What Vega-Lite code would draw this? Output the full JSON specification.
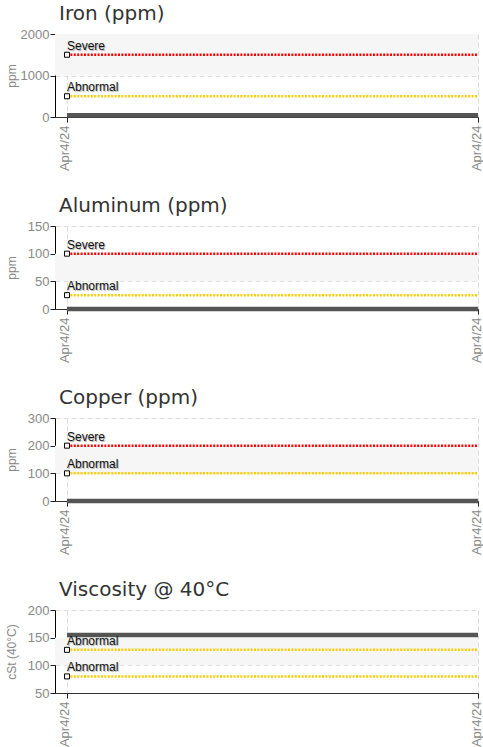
{
  "$schema": "https://vega.github.io/schema/vega-lite/v6.json",
  "padding": {"left": 5, "top": 4, "right": 0, "bottom": 0},
  "spacing": 25,
  "config": {
    "view": {"stroke": null},
    "title": {"font": "DejaVu Sans", "fontSize": 20, "fontWeight": "normal", "color": "#333333", "anchor": "start", "frame": "group", "offset": 4, "baseline": "alphabetic", "dx": 4},
    "axisY": {"domain": true, "domainWidth": 1, "grid": true, "gridColor": "#dddddd", "gridDash": [5, 3], "domainColor": "#000000", "tickColor": "#222222", "tickSize": 5, "labelFont": "Liberation Sans", "labelFontSize": 13, "labelColor": "#888888", "labelPadding": 1, "titleFont": "Liberation Sans", "titleFontSize": 12, "titleColor": "#888888", "titleFontWeight": "normal", "titleX": -40, "titleBaseline": "alphabetic", "format": "d"},
    "axisX": {"domain": true, "grid": true, "gridColor": "#dddddd", "gridDash": [5, 3], "domainColor": "#333333", "tickColor": "#222222", "tickSize": 5, "labelFont": "Liberation Sans", "labelFontSize": 13, "labelColor": "#888888", "labelPadding": 3, "labelAngle": 270, "labelOffset": -2, "format": "%b%-d/%y", "title": null}
  },
  "datasets": {
    "series": [
      {"panel": "Iron", "date": "2024-04-04T08:00:00", "v": 45},
      {"panel": "Iron", "date": "2024-04-04T20:00:00", "v": 45},
      {"panel": "Aluminum", "date": "2024-04-04T08:00:00", "v": 0},
      {"panel": "Aluminum", "date": "2024-04-04T20:00:00", "v": 0},
      {"panel": "Copper", "date": "2024-04-04T08:00:00", "v": 0},
      {"panel": "Copper", "date": "2024-04-04T20:00:00", "v": 0},
      {"panel": "Viscosity", "date": "2024-04-04T08:00:00", "v": 155},
      {"panel": "Viscosity", "date": "2024-04-04T20:00:00", "v": 155}
    ],
    "thresholds": [
      {"panel": "Iron", "label": "Severe", "v": 1500, "date": "2024-04-04T08:00:00", "date2": "2024-04-04T20:00:00"},
      {"panel": "Iron", "label": "Abnormal", "v": 500, "date": "2024-04-04T08:00:00", "date2": "2024-04-04T20:00:00"},
      {"panel": "Aluminum", "label": "Severe", "v": 100, "date": "2024-04-04T08:00:00", "date2": "2024-04-04T20:00:00"},
      {"panel": "Aluminum", "label": "Abnormal", "v": 25, "date": "2024-04-04T08:00:00", "date2": "2024-04-04T20:00:00"},
      {"panel": "Copper", "label": "Severe", "v": 200, "date": "2024-04-04T08:00:00", "date2": "2024-04-04T20:00:00"},
      {"panel": "Copper", "label": "Abnormal", "v": 100, "date": "2024-04-04T08:00:00", "date2": "2024-04-04T20:00:00"},
      {"panel": "Viscosity", "label": "Abnormal", "v": 128, "date": "2024-04-04T08:00:00", "date2": "2024-04-04T20:00:00"},
      {"panel": "Viscosity", "label": "Abnormal", "v": 80, "date": "2024-04-04T08:00:00", "date2": "2024-04-04T20:00:00"}
    ],
    "bands": [
      {"panel": "Iron", "v": 1000, "v2": 2000},
      {"panel": "Aluminum", "v": 50, "v2": 100},
      {"panel": "Copper", "v": 100, "v2": 200},
      {"panel": "Viscosity", "v": 100, "v2": 150}
    ]
  },
  "vconcat": [
    {
      "title": "Iron (ppm)",
      "width": 423, "height": 83,
      "encoding": {"y": {"field": "v", "type": "quantitative", "scale": {"domain": [0, 2000], "nice": false, "zero": false}, "axis": {"values": [0, 1000, 2000], "title": "ppm"}}},
      "layer": [
        {"data": {"name": "bands"}, "transform": [{"filter": "datum.panel === 'Iron'"}], "mark": {"type": "rect", "color": "#f6f6f6"}, "encoding": {"y2": {"field": "v2"}}},
        {"data": {"name": "thresholds"}, "transform": [{"filter": "datum.panel === 'Iron'"}], "mark": {"type": "rule", "strokeWidth": 2.5, "strokeDash": [2, 1.4]}, "encoding": {"x": {"field": "date", "type": "temporal", "scale": {"domain": [{"year": 2024, "month": 4, "date": 4, "hours": 7, "minutes": 39}, {"year": 2024, "month": 4, "date": 4, "hours": 20}]}, "axis": {"values": [{"year": 2024, "month": 4, "date": 4, "hours": 8}, {"year": 2024, "month": 4, "date": 4, "hours": 20}]}}, "x2": {"field": "date2"}, "color": {"field": "label", "type": "nominal", "scale": {"domain": ["Severe", "Abnormal"], "range": ["#ff0000", "#ffcc00"]}, "legend": null}}},
        {"data": {"name": "series"}, "transform": [{"filter": "datum.panel === 'Iron'"}], "mark": {"type": "line", "color": "#555555", "strokeWidth": 4.5, "strokeCap": "butt"}, "encoding": {"x": {"field": "date", "type": "temporal", "scale": {"domain": [{"year": 2024, "month": 4, "date": 4, "hours": 7, "minutes": 39}, {"year": 2024, "month": 4, "date": 4, "hours": 20}]}, "axis": {"values": [{"year": 2024, "month": 4, "date": 4, "hours": 8}, {"year": 2024, "month": 4, "date": 4, "hours": 20}]}}}},
        {"data": {"name": "thresholds"}, "transform": [{"filter": "datum.panel === 'Iron'"}], "mark": {"type": "point", "shape": "square", "size": 25, "filled": true, "fill": "#ffffff", "stroke": "#000000", "strokeWidth": 1, "opacity": 1}, "encoding": {"x": {"field": "date", "type": "temporal", "axis": {"values": [{"year": 2024, "month": 4, "date": 4, "hours": 8}, {"year": 2024, "month": 4, "date": 4, "hours": 20}]}}}},
        {"data": {"name": "thresholds"}, "transform": [{"filter": "datum.panel === 'Iron'"}], "mark": {"type": "text", "align": "left", "baseline": "alphabetic", "dx": 1, "dy": -4, "font": "Liberation Sans", "fontSize": 12, "color": "#bbbbbb"}, "encoding": {"x": {"field": "date", "type": "temporal", "axis": {"values": [{"year": 2024, "month": 4, "date": 4, "hours": 8}, {"year": 2024, "month": 4, "date": 4, "hours": 20}]}}, "text": {"field": "label"}}},
        {"data": {"name": "thresholds"}, "transform": [{"filter": "datum.panel === 'Iron'"}], "mark": {"type": "text", "align": "left", "baseline": "alphabetic", "dx": 0, "dy": -5, "font": "Liberation Sans", "fontSize": 12, "color": "#111111"}, "encoding": {"x": {"field": "date", "type": "temporal", "axis": {"values": [{"year": 2024, "month": 4, "date": 4, "hours": 8}, {"year": 2024, "month": 4, "date": 4, "hours": 20}]}}, "text": {"field": "label"}}}
      ]
    },
    {
      "title": "Aluminum (ppm)",
      "width": 423, "height": 83,
      "encoding": {"y": {"field": "v", "type": "quantitative", "scale": {"domain": [0, 150], "nice": false, "zero": false}, "axis": {"values": [0, 50, 100, 150], "title": "ppm"}}},
      "layer": [
        {"data": {"name": "bands"}, "transform": [{"filter": "datum.panel === 'Aluminum'"}], "mark": {"type": "rect", "color": "#f6f6f6"}, "encoding": {"y2": {"field": "v2"}}},
        {"data": {"name": "thresholds"}, "transform": [{"filter": "datum.panel === 'Aluminum'"}], "mark": {"type": "rule", "strokeWidth": 2.5, "strokeDash": [2, 1.4]}, "encoding": {"x": {"field": "date", "type": "temporal", "scale": {"domain": [{"year": 2024, "month": 4, "date": 4, "hours": 7, "minutes": 39}, {"year": 2024, "month": 4, "date": 4, "hours": 20}]}, "axis": {"values": [{"year": 2024, "month": 4, "date": 4, "hours": 8}, {"year": 2024, "month": 4, "date": 4, "hours": 20}]}}, "x2": {"field": "date2"}, "color": {"field": "label", "type": "nominal", "scale": {"domain": ["Severe", "Abnormal"], "range": ["#ff0000", "#ffcc00"]}, "legend": null}}},
        {"data": {"name": "series"}, "transform": [{"filter": "datum.panel === 'Aluminum'"}], "mark": {"type": "line", "color": "#555555", "strokeWidth": 4.5, "strokeCap": "butt"}, "encoding": {"x": {"field": "date", "type": "temporal", "scale": {"domain": [{"year": 2024, "month": 4, "date": 4, "hours": 7, "minutes": 39}, {"year": 2024, "month": 4, "date": 4, "hours": 20}]}, "axis": {"values": [{"year": 2024, "month": 4, "date": 4, "hours": 8}, {"year": 2024, "month": 4, "date": 4, "hours": 20}]}}}},
        {"data": {"name": "thresholds"}, "transform": [{"filter": "datum.panel === 'Aluminum'"}], "mark": {"type": "point", "shape": "square", "size": 25, "filled": true, "fill": "#ffffff", "stroke": "#000000", "strokeWidth": 1, "opacity": 1}, "encoding": {"x": {"field": "date", "type": "temporal", "axis": {"values": [{"year": 2024, "month": 4, "date": 4, "hours": 8}, {"year": 2024, "month": 4, "date": 4, "hours": 20}]}}}},
        {"data": {"name": "thresholds"}, "transform": [{"filter": "datum.panel === 'Aluminum'"}], "mark": {"type": "text", "align": "left", "baseline": "alphabetic", "dx": 1, "dy": -4, "font": "Liberation Sans", "fontSize": 12, "color": "#bbbbbb"}, "encoding": {"x": {"field": "date", "type": "temporal", "axis": {"values": [{"year": 2024, "month": 4, "date": 4, "hours": 8}, {"year": 2024, "month": 4, "date": 4, "hours": 20}]}}, "text": {"field": "label"}}},
        {"data": {"name": "thresholds"}, "transform": [{"filter": "datum.panel === 'Aluminum'"}], "mark": {"type": "text", "align": "left", "baseline": "alphabetic", "dx": 0, "dy": -5, "font": "Liberation Sans", "fontSize": 12, "color": "#111111"}, "encoding": {"x": {"field": "date", "type": "temporal", "axis": {"values": [{"year": 2024, "month": 4, "date": 4, "hours": 8}, {"year": 2024, "month": 4, "date": 4, "hours": 20}]}}, "text": {"field": "label"}}}
      ]
    },
    {
      "title": "Copper (ppm)",
      "width": 423, "height": 83,
      "encoding": {"y": {"field": "v", "type": "quantitative", "scale": {"domain": [0, 300], "nice": false, "zero": false}, "axis": {"values": [0, 100, 200, 300], "title": "ppm"}}},
      "layer": [
        {"data": {"name": "bands"}, "transform": [{"filter": "datum.panel === 'Copper'"}], "mark": {"type": "rect", "color": "#f6f6f6"}, "encoding": {"y2": {"field": "v2"}}},
        {"data": {"name": "thresholds"}, "transform": [{"filter": "datum.panel === 'Copper'"}], "mark": {"type": "rule", "strokeWidth": 2.5, "strokeDash": [2, 1.4]}, "encoding": {"x": {"field": "date", "type": "temporal", "scale": {"domain": [{"year": 2024, "month": 4, "date": 4, "hours": 7, "minutes": 39}, {"year": 2024, "month": 4, "date": 4, "hours": 20}]}, "axis": {"values": [{"year": 2024, "month": 4, "date": 4, "hours": 8}, {"year": 2024, "month": 4, "date": 4, "hours": 20}]}}, "x2": {"field": "date2"}, "color": {"field": "label", "type": "nominal", "scale": {"domain": ["Severe", "Abnormal"], "range": ["#ff0000", "#ffcc00"]}, "legend": null}}},
        {"data": {"name": "series"}, "transform": [{"filter": "datum.panel === 'Copper'"}], "mark": {"type": "line", "color": "#555555", "strokeWidth": 4.5, "strokeCap": "butt"}, "encoding": {"x": {"field": "date", "type": "temporal", "scale": {"domain": [{"year": 2024, "month": 4, "date": 4, "hours": 7, "minutes": 39}, {"year": 2024, "month": 4, "date": 4, "hours": 20}]}, "axis": {"values": [{"year": 2024, "month": 4, "date": 4, "hours": 8}, {"year": 2024, "month": 4, "date": 4, "hours": 20}]}}}},
        {"data": {"name": "thresholds"}, "transform": [{"filter": "datum.panel === 'Copper'"}], "mark": {"type": "point", "shape": "square", "size": 25, "filled": true, "fill": "#ffffff", "stroke": "#000000", "strokeWidth": 1, "opacity": 1}, "encoding": {"x": {"field": "date", "type": "temporal", "axis": {"values": [{"year": 2024, "month": 4, "date": 4, "hours": 8}, {"year": 2024, "month": 4, "date": 4, "hours": 20}]}}}},
        {"data": {"name": "thresholds"}, "transform": [{"filter": "datum.panel === 'Copper'"}], "mark": {"type": "text", "align": "left", "baseline": "alphabetic", "dx": 1, "dy": -4, "font": "Liberation Sans", "fontSize": 12, "color": "#bbbbbb"}, "encoding": {"x": {"field": "date", "type": "temporal", "axis": {"values": [{"year": 2024, "month": 4, "date": 4, "hours": 8}, {"year": 2024, "month": 4, "date": 4, "hours": 20}]}}, "text": {"field": "label"}}},
        {"data": {"name": "thresholds"}, "transform": [{"filter": "datum.panel === 'Copper'"}], "mark": {"type": "text", "align": "left", "baseline": "alphabetic", "dx": 0, "dy": -5, "font": "Liberation Sans", "fontSize": 12, "color": "#111111"}, "encoding": {"x": {"field": "date", "type": "temporal", "axis": {"values": [{"year": 2024, "month": 4, "date": 4, "hours": 8}, {"year": 2024, "month": 4, "date": 4, "hours": 20}]}}, "text": {"field": "label"}}}
      ]
    },
    {
      "title": "Viscosity @ 40°C",
      "width": 423, "height": 83,
      "encoding": {"y": {"field": "v", "type": "quantitative", "scale": {"domain": [50, 200], "nice": false, "zero": false}, "axis": {"values": [50, 100, 150, 200], "title": "cSt (40°C)"}}},
      "layer": [
        {"data": {"name": "bands"}, "transform": [{"filter": "datum.panel === 'Viscosity'"}], "mark": {"type": "rect", "color": "#f6f6f6"}, "encoding": {"y2": {"field": "v2"}}},
        {"data": {"name": "thresholds"}, "transform": [{"filter": "datum.panel === 'Viscosity'"}], "mark": {"type": "rule", "strokeWidth": 2.5, "strokeDash": [2, 1.4]}, "encoding": {"x": {"field": "date", "type": "temporal", "scale": {"domain": [{"year": 2024, "month": 4, "date": 4, "hours": 7, "minutes": 39}, {"year": 2024, "month": 4, "date": 4, "hours": 20}]}, "axis": {"values": [{"year": 2024, "month": 4, "date": 4, "hours": 8}, {"year": 2024, "month": 4, "date": 4, "hours": 20}]}}, "x2": {"field": "date2"}, "color": {"field": "label", "type": "nominal", "scale": {"domain": ["Severe", "Abnormal"], "range": ["#ff0000", "#ffcc00"]}, "legend": null}}},
        {"data": {"name": "series"}, "transform": [{"filter": "datum.panel === 'Viscosity'"}], "mark": {"type": "line", "color": "#555555", "strokeWidth": 4.5, "strokeCap": "butt"}, "encoding": {"x": {"field": "date", "type": "temporal", "scale": {"domain": [{"year": 2024, "month": 4, "date": 4, "hours": 7, "minutes": 39}, {"year": 2024, "month": 4, "date": 4, "hours": 20}]}, "axis": {"values": [{"year": 2024, "month": 4, "date": 4, "hours": 8}, {"year": 2024, "month": 4, "date": 4, "hours": 20}]}}}},
        {"data": {"name": "thresholds"}, "transform": [{"filter": "datum.panel === 'Viscosity'"}], "mark": {"type": "point", "shape": "square", "size": 25, "filled": true, "fill": "#ffffff", "stroke": "#000000", "strokeWidth": 1, "opacity": 1}, "encoding": {"x": {"field": "date", "type": "temporal", "axis": {"values": [{"year": 2024, "month": 4, "date": 4, "hours": 8}, {"year": 2024, "month": 4, "date": 4, "hours": 20}]}}}},
        {"data": {"name": "thresholds"}, "transform": [{"filter": "datum.panel === 'Viscosity'"}], "mark": {"type": "text", "align": "left", "baseline": "alphabetic", "dx": 1, "dy": -4, "font": "Liberation Sans", "fontSize": 12, "color": "#bbbbbb"}, "encoding": {"x": {"field": "date", "type": "temporal", "axis": {"values": [{"year": 2024, "month": 4, "date": 4, "hours": 8}, {"year": 2024, "month": 4, "date": 4, "hours": 20}]}}, "text": {"field": "label"}}},
        {"data": {"name": "thresholds"}, "transform": [{"filter": "datum.panel === 'Viscosity'"}], "mark": {"type": "text", "align": "left", "baseline": "alphabetic", "dx": 0, "dy": -5, "font": "Liberation Sans", "fontSize": 12, "color": "#111111"}, "encoding": {"x": {"field": "date", "type": "temporal", "axis": {"values": [{"year": 2024, "month": 4, "date": 4, "hours": 8}, {"year": 2024, "month": 4, "date": 4, "hours": 20}]}}, "text": {"field": "label"}}}
      ]
    }
  ]
}
